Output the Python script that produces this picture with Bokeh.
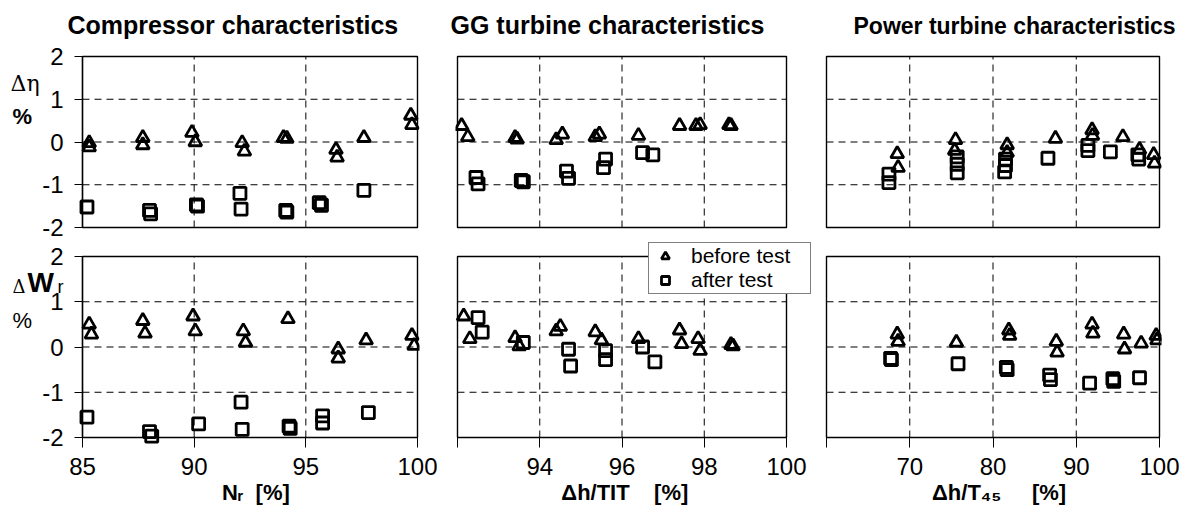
from bokeh.plotting import figure
from bokeh.models import FixedTicker, Label, Legend, LegendItem, Range1d
from bokeh.layouts import column, row
from bokeh.embed import file_html
from bokeh.resources import INLINE

# ---------------- data ----------------
# Compressor: x = Nr [%]
comp_eta_before_x = [85.3, 85.3, 87.7, 87.7, 89.9, 90.05, 92.15, 92.25, 94.0, 94.15, 96.35, 96.4, 97.6, 99.7, 99.75]
comp_eta_before_y = [-0.02, -0.12, 0.1, -0.07, 0.22, 0.0, -0.02, -0.22, 0.1, 0.08, -0.18, -0.36, 0.1, 0.62, 0.4]
comp_eta_after_x = [85.2, 88.0, 88.05, 90.1, 90.15, 92.05, 92.1, 94.1, 94.15, 95.6, 95.7, 97.6]
comp_eta_after_y = [-1.52, -1.6, -1.68, -1.47, -1.5, -1.2, -1.57, -1.6, -1.64, -1.42, -1.48, -1.13]
comp_w_before_x = [85.3, 85.4, 87.7, 87.8, 89.95, 90.05, 92.2, 92.3, 94.2, 96.45, 96.45, 97.7, 99.75, 99.85]
comp_w_before_y = [0.5, 0.28, 0.58, 0.3, 0.68, 0.35, 0.35, 0.1, 0.62, -0.05, -0.25, 0.15, 0.25, 0.03]
comp_w_after_x = [85.2, 88.0, 88.1, 90.2, 92.1, 92.15, 94.25, 94.3, 95.75, 95.75, 97.8]
comp_w_after_y = [-1.55, -1.87, -1.97, -1.7, -1.22, -1.82, -1.75, -1.8, -1.52, -1.68, -1.45]

# GG turbine: x = dh/TIT [%]
gg_eta_before_x = [92.1, 92.25, 93.4, 93.45, 94.4, 94.55, 95.35, 95.45, 96.4, 97.4, 97.8, 97.9, 98.6, 98.65]
gg_eta_before_y = [0.38, 0.12, 0.1, 0.06, 0.05, 0.18, 0.12, 0.18, 0.15, 0.38, 0.38, 0.4, 0.4, 0.38]
gg_eta_after_x = [92.45, 92.5, 93.55, 93.6, 94.65, 94.7, 95.6, 95.55, 96.5, 96.75]
gg_eta_after_y = [-0.83, -0.98, -0.9, -0.93, -0.68, -0.85, -0.4, -0.6, -0.25, -0.3]
gg_w_before_x = [92.15, 92.3, 93.4, 93.5, 94.4, 94.5, 95.35, 95.5, 96.4, 97.4, 97.45, 97.85, 97.9, 98.65, 98.7]
gg_w_before_y = [0.68, 0.18, 0.2, 0.02, 0.35, 0.45, 0.33, 0.15, 0.18, 0.37, 0.07, 0.18, -0.08, 0.05, 0.02]
gg_w_after_x = [92.5, 92.6, 93.6, 94.7, 94.75, 95.6, 95.6, 96.5, 96.8]
gg_w_after_y = [0.65, 0.33, 0.1, -0.05, -0.42, -0.08, -0.28, 0.0, -0.33]

# Power turbine: x = dh/T45 [%]
pt_eta_before_x = [68.5, 68.6, 75.5, 75.4, 81.7, 81.7, 87.5, 91.9, 91.95, 95.6, 97.6, 99.3, 99.4]
pt_eta_before_y = [-0.28, -0.6, 0.05, -0.2, -0.07, -0.25, 0.08, 0.28, 0.15, 0.12, -0.18, -0.3, -0.5]
pt_eta_after_x = [67.5, 67.5, 75.7, 75.7, 75.7, 81.5, 81.5, 81.4, 86.6, 91.4, 91.4, 94.1, 97.4, 97.5]
pt_eta_after_y = [-0.75, -0.95, -0.35, -0.52, -0.72, -0.4, -0.55, -0.7, -0.38, -0.08, -0.2, -0.23, -0.3, -0.4]
pt_w_before_x = [68.5, 68.6, 75.6, 81.9, 82.0, 87.6, 87.7, 91.9, 92.0, 95.7, 95.8, 97.8, 99.6, 99.7]
pt_w_before_y = [0.28, 0.12, 0.1, 0.37, 0.25, 0.12, -0.12, 0.5, 0.3, 0.28, -0.05, 0.08, 0.25, 0.15]
pt_w_after_x = [67.7, 67.8, 75.8, 81.6, 81.7, 86.8, 86.9, 91.6, 94.4, 94.5, 97.6]
pt_w_after_y = [-0.25, -0.28, -0.37, -0.45, -0.5, -0.62, -0.72, -0.8, -0.7, -0.76, -0.68]

y_limits = (-2, 2)
y_ticks = [-2, -1, 0, 1, 2]
y_tick_labels = {-2: "-2", -1: "-1", 0: "0", 1: "1", 2: "2"}
x_limits = [(85, 100), (92, 100), (60, 100)]
comp_x_ticks = [85, 90, 95, 100]
comp_x_labels = {85: "85", 90: "90", 95: "95", 100: "100"}
gg_x_ticks = [92, 94, 96, 98, 100]
gg_x_labels = {92: "", 94: "94", 96: "96", 98: "98", 100: "100"}
pt_x_ticks = [60, 70, 80, 90, 100]
pt_x_labels = {60: "", 70: "70", 80: "80", 90: "90", 100: "100"}

titles = ["Compressor characteristics", "GG turbine characteristics", "Power turbine characteristics"]
NB = "\u00a0"
x_labels = [NB * 15 + "N\u1d63" + NB * 2 + "[%]",
            "\u0394h/TIT" + NB * 4 + "[%]" + NB * 3,
            NB * 2 + "\u0394h/T\u2084\u2085" + NB * 5 + "[%]"]
legend_labels = ["before test", "after test"]

FONT = "Liberation Sans"

# ---------------- layout geometry (pixels) ----------------
# panel boxes: columns x 82-417, 457-786, 826-1159 ; rows y 56-227, 256-437
col_w = [437, 379, 367]
col_left = [82, 20, 10]
col_right = [20, 30, 24]
frame_w = [335, 329, 333]
col_ext_left = [82, 2, 2]
col_ext_right = [2, 26, 2]
row_h = [242, 270]
row_top = [56, 14]
row_bottom = [15, 75]
frame_h = [171, 181]
row_ext_top = [10, 14]
row_ext_bottom = [15, 10]
title_offsets = [67, -5, 29]
title_sizes = ["25px", "25px", "23px"]
x_ticks = [comp_x_ticks, gg_x_ticks, pt_x_ticks]
x_tick_labels = [comp_x_labels, gg_x_labels, pt_x_labels]
DASH = "7 5"


def make_panel(ci, r):
    x0, x1 = x_limits[ci]
    y0, y1 = y_limits
    el, er = col_ext_left[ci], col_ext_right[ci]
    et, eb = row_ext_top[r], row_ext_bottom[r]
    ppx = frame_w[ci] / (x1 - x0)
    ppy = frame_h[r] / (y1 - y0)
    p = figure(width=col_w[ci], height=row_h[r], output_backend="svg", toolbar_location=None,
               x_range=Range1d(x0 - el / ppx, x1 + er / ppx),
               y_range=Range1d(y0 - eb / ppy, y1 + et / ppy))
    p.min_border_left = col_left[ci] - el
    p.min_border_right = col_right[ci] - er
    p.min_border_top = row_top[r] - et
    p.min_border_bottom = row_bottom[r] - eb
    p.background_fill_color = "white"
    p.border_fill_color = "white"
    p.outline_line_color = None

    # grid lines and panel box, restricted to the data limits
    p.xgrid.visible = False
    p.ygrid.visible = False
    vx = [t for t in x_ticks[ci] if x0 < t < x1]
    hy = [t for t in y_ticks if y0 < t < y1]
    p.segment(x0=vx, y0=[y0] * len(vx), x1=vx, y1=[y1] * len(vx),
              line_color="black", line_dash=DASH, line_width=1)
    p.segment(x0=[x0] * len(hy), y0=hy, x1=[x1] * len(hy), y1=hy,
              line_color="black", line_dash=DASH, line_width=1)
    p.quad(left=[x0], right=[x1], bottom=[y0], top=[y1], fill_color=None,
           line_color="black", line_width=1.4)

    p.xaxis.ticker = FixedTicker(ticks=x_ticks[ci])
    p.yaxis.ticker = FixedTicker(ticks=y_ticks)
    p.xaxis.bounds = (x0, x1)
    p.yaxis.bounds = (y0, y1)
    for ax in (p.xaxis, p.yaxis):
        ax.axis_line_color = "black"
        ax.axis_line_width = 1.3
        ax.major_tick_line_color = "black"
        ax.minor_tick_line_color = None
        ax.major_tick_in = 0
        ax.major_label_text_font = FONT
        ax.major_label_text_font_size = "24px"
        ax.major_label_text_color = "black"
    p.yaxis.major_tick_out = 8
    p.yaxis.major_label_standoff = 11
    p.yaxis.major_label_overrides = y_tick_labels
    # x axis sits eb px below the panel box: ticks reach up to the box
    p.xaxis.axis_line_color = None
    p.xaxis.major_tick_out = 0
    p.xaxis.major_tick_in = eb
    p.xaxis.major_label_standoff = 20 - eb
    p.xaxis.major_label_overrides = x_tick_labels[ci]

    if r == 0:
        p.xaxis.visible = False
        p.title.text = titles[ci]
        p.title.align = "left"
        p.title.offset = title_offsets[ci]
        p.title.text_font = FONT
        p.title.text_font_size = title_sizes[ci]
        p.title.text_font_style = "bold"
        p.title.text_color = "black"
        p.title.standoff = 16
    else:
        p.title = None
        p.xaxis.axis_label = x_labels[ci]
        p.xaxis.axis_label_text_font = FONT
        p.xaxis.axis_label_text_font_size = "22px"
        p.xaxis.axis_label_text_font_style = "bold"
        p.xaxis.axis_label_text_color = "black"
        p.xaxis.axis_label_standoff = 2
    if ci > 0:
        p.yaxis.visible = False
    else:
        p.yaxis.fixed_location = x0
    return p


def add_points(p, bx, by, ax_, ay):
    r1 = p.scatter(bx, by, marker="triangle", size=13, line_color="black", line_width=2.8,
                   fill_alpha=0)
    r2 = p.scatter(ax_, ay, marker="square", size=12, line_color="black", line_width=2.8,
                   fill_alpha=0)
    return r1, r2


f1 = make_panel(0, 0)
f2 = make_panel(1, 0)
f3 = make_panel(2, 0)
f4 = make_panel(0, 1)
f5 = make_panel(1, 1)
f6 = make_panel(2, 1)

add_points(f1, comp_eta_before_x, comp_eta_before_y, comp_eta_after_x, comp_eta_after_y)
add_points(f2, gg_eta_before_x, gg_eta_before_y, gg_eta_after_x, gg_eta_after_y)
add_points(f3, pt_eta_before_x, pt_eta_before_y, pt_eta_after_x, pt_eta_after_y)
add_points(f4, comp_w_before_x, comp_w_before_y, comp_w_after_x, comp_w_after_y)
rb, ra = add_points(f5, gg_w_before_x, gg_w_before_y, gg_w_after_x, gg_w_after_y)
add_points(f6, pt_w_before_x, pt_w_before_y, pt_w_after_x, pt_w_after_y)


def side_label(p, r, x, y_page, text, font, size, style="normal"):
    # screen units relative to the frame's bottom-left corner
    frame_bottom = sum(row_h[:r]) + row_h[r] - (row_bottom[r] - row_ext_bottom[r])
    p.add_layout(Label(x=x, y=frame_bottom - y_page, x_units="screen", y_units="screen",
                       text=text, text_font=font, text_font_size=size,
                       text_font_style=style, text_color="black", text_baseline="middle"))


side_label(f1, 0, 10, 83, "\u0394\u03b7", "DejaVu Serif", "22px")
side_label(f1, 0, 12, 116, "%", FONT, "22px", "bold")
side_label(f4, 1, 12, 286, "\u0394", "DejaVu Serif", "18px")
side_label(f4, 1, 27, 282, "W", FONT, "28px", "bold")
side_label(f4, 1, 57, 286, "r", FONT, "18px")
side_label(f4, 1, 12, 320, "%", FONT, "22px")

legend = Legend(items=[LegendItem(label=legend_labels[0], renderers=[rb]),
                       LegendItem(label=legend_labels[1], renderers=[ra])],
                location=(191 + col_ext_left[1], 143 + row_ext_bottom[1]))
legend.border_line_color = "black"
legend.border_line_width = 1
legend.background_fill_color = "white"
legend.background_fill_alpha = 1
legend.label_text_font = FONT
legend.label_text_font_size = "21px"
legend.label_text_color = "black"
legend.padding = 1
legend.spacing = 0
legend.margin = 0
legend.glyph_width = 30
legend.glyph_height = 20
legend.label_standoff = 11
legend.label_height = 24
legend.label_width = 118
f5.add_layout(legend)

layout = column(row(f1, f2, f3), row(f4, f5, f6))

with open("out.html", "w") as fh:
    fh.write(file_html(layout, INLINE))
